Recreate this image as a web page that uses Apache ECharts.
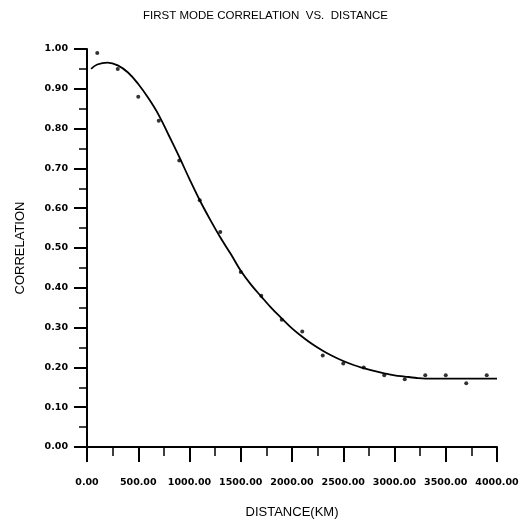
<!DOCTYPE html>
<html>
<head>
<meta charset="utf-8">
<script src="https://cdn.jsdelivr.net/npm/echarts@6/dist/echarts.min.js"></script>
<style>
html,body{margin:0;padding:0;background:#fff;}
#chart{width:531px;height:524px;}
</style>
</head>
<body>
<div id="chart"></div>
<script>
// Observed data points (distance km, correlation)
const pointDistances = [100, 300, 500, 700, 900, 1100, 1300, 1500, 1700, 1900, 2100, 2300, 2500, 2700, 2900, 3100, 3300, 3500, 3700, 3900];
const pointValues = [0.99, 0.95, 0.88, 0.82, 0.72, 0.62, 0.54, 0.44, 0.38, 0.32, 0.29, 0.23, 0.21, 0.20, 0.18, 0.17, 0.18, 0.18, 0.16, 0.18];

// Fitted curve
const curveDistances = [40, 100, 200, 300, 400, 500, 600, 700, 800, 900, 1000, 1100, 1200, 1300, 1400, 1500, 1600, 1700, 1800, 1900, 2000, 2100, 2200, 2300, 2400, 2500, 2600, 2700, 2800, 2900, 3000, 3100, 3200, 3300, 3500, 3700, 4000];
const curveValues = [0.950, 0.961, 0.966, 0.959, 0.941, 0.912, 0.876, 0.834, 0.782, 0.729, 0.673, 0.620, 0.572, 0.527, 0.486, 0.443, 0.408, 0.378, 0.349, 0.323, 0.298, 0.277, 0.258, 0.242, 0.228, 0.216, 0.206, 0.198, 0.191, 0.185, 0.180, 0.177, 0.174, 0.172, 0.172, 0.172, 0.172];

const xTicks = [0, 500, 1000, 1500, 2000, 2500, 3000, 3500, 4000];
const yTicks = [0, 0.1, 0.2, 0.3, 0.4, 0.5, 0.6, 0.7, 0.8, 0.9, 1.0];

const chart = echarts.init(document.getElementById('chart'), null, {renderer: 'canvas'});
const font = 'Liberation Sans, Arial, sans-serif';
chart.setOption({
  animation: false,
  backgroundColor: '#fff',
  title: {
    text: 'FIRST MODE CORRELATION  VS.  DISTANCE',
    left: 'center',
    top: 5,
    textStyle: {fontFamily: font, fontSize: 11.5, fontWeight: 'normal', color: '#000'}
  },
  grid: {left: 87, right: 34, top: 49, bottom: 70, containLabel: false},
  xAxis: {
    type: 'value',
    min: xTicks[0], max: xTicks[xTicks.length - 1], interval: 500,
    name: 'DISTANCE(KM)', nameLocation: 'middle', nameGap: 59,
    nameTextStyle: {fontFamily: font, fontSize: 13, color: '#000'},
    axisLine: {show: true, onZero: false, lineStyle: {color: '#000', width: 2}},
    axisTick: {show: true, inside: false, length: 15, lineStyle: {color: '#000', width: 2}},
    minorTick: {show: true, splitNumber: 2, length: 9, lineStyle: {color: '#000', width: 1.5}},
    splitLine: {show: false},
    axisLabel: {fontFamily: 'DejaVu Sans', fontSize: 9.5, fontWeight: 'bold', color: '#000', margin: 31,
      formatter: v => v.toFixed(2)}
  },
  yAxis: {
    type: 'value',
    min: yTicks[0], max: yTicks[yTicks.length - 1], interval: 0.1,
    name: 'CORRELATION', nameLocation: 'middle', nameGap: 60, nameRotate: 90,
    nameTextStyle: {fontFamily: font, fontSize: 13, color: '#000'},
    axisLine: {show: true, onZero: false, lineStyle: {color: '#000', width: 2}},
    axisTick: {show: true, inside: false, length: 13, lineStyle: {color: '#000', width: 2}},
    minorTick: {show: true, splitNumber: 2, length: 8, lineStyle: {color: '#000', width: 1.5}},
    splitLine: {show: false},
    axisLabel: {fontFamily: 'DejaVu Sans', fontSize: 9.5, fontWeight: 'bold', color: '#000', margin: 19,
      formatter: v => v.toFixed(2)}
  },
  series: [
    {
      type: 'line',
      data: curveDistances.map((d, i) => [d, curveValues[i]]),
      smooth: 0.4,
      showSymbol: false,
      lineStyle: {color: '#000', width: 1.8}
    },
    {
      type: 'scatter',
      data: pointDistances.map((d, i) => [d, pointValues[i]]),
      symbol: 'circle',
      symbolSize: 4,
      itemStyle: {color: '#000'}
    }
  ]
});
</script>
</body>
</html>
